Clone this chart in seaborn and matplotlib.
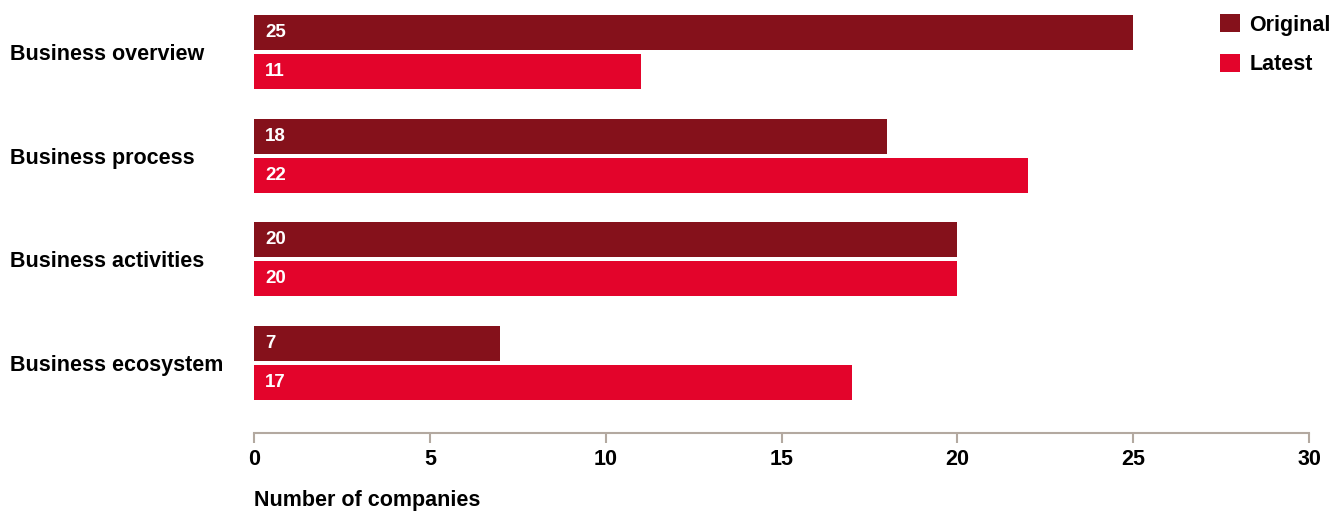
import matplotlib
matplotlib.use("Agg")
import matplotlib.pyplot as plt
import seaborn as sns
import pandas as pd

categories = ["Business overview", "Business process", "Business activities", "Business ecosystem"]
original = [25, 18, 20, 7]
latest = [11, 22, 20, 17]
series_names = ["Original", "Latest"]
x_ticks = [0, 5, 10, 15, 20, 25, 30]
x_label = "Number of companies"

colors = {"Original": "#85111B", "Latest": "#E3042B"}

rows = []
for c, o, l in zip(categories, original, latest):
    rows.append({"category": c, "series": "Original", "value": o})
    rows.append({"category": c, "series": "Latest", "value": l})
df = pd.DataFrame(rows)

sns.set_theme(style="white")
plt.rcParams["font.family"] = ["Liberation Sans", "DejaVu Sans"]
plt.rcParams["font.weight"] = "bold"

W, H = 1344, 511
fig = plt.figure(figsize=(W / 100, H / 100), dpi=100)
ax = fig.add_axes([254 / W, (H - 433) / H, (1309 - 254) / W, 432.6 / H])

sns.barplot(data=df, x="value", y="category", hue="series", orient="h",
            palette=colors, width=0.755, gap=0.1, saturation=1, linewidth=0,
            order=categories, hue_order=series_names, ax=ax, legend=True)

ax.set_xlim(0, 30)
ax.set_ylim(3.68, -0.5)
ax.set_xticks(x_ticks)
ax.set_xticklabels([str(t) for t in x_ticks], fontsize=15.5, fontweight="bold", color="black")
ax.tick_params(axis="x", bottom=True, direction="out", length=7.5, width=1.5, color="#B3A9A0", pad=4)
ax.tick_params(axis="y", left=False, length=0, pad=175.7)
for lbl in ax.get_yticklabels():
    lbl.set_ha("left")
    lbl.set_fontsize(15.5)
    lbl.set_fontweight("bold")
    lbl.set_color("black")

for s in ["top", "right", "left"]:
    ax.spines[s].set_visible(False)
ax.spines["bottom"].set_color("#B3A9A0")
ax.spines["bottom"].set_linewidth(1.5)

ax.set_ylabel("")
ax.set_xlabel(x_label, fontsize=15.5, fontweight="bold", color="black", loc="left", labelpad=14.5)

for cont in ax.containers:
    for patch, val in zip(cont.patches, cont.datavalues):
        cy = patch.get_y() + patch.get_height() / 2
        ax.annotate(f"{int(val)}", xy=(0, cy), xytext=(8, 0), textcoords="offset points",
                    ha="left", va="center", color="white", fontsize=13.5, fontweight="bold")

leg = ax.legend(loc="upper left", bbox_to_anchor=(1201 / W, 1 + 5 / H),
                bbox_transform=fig.transFigure, frameon=False,
                handlelength=0.9, handleheight=0.9, handletextpad=0.45,
                labelspacing=0.85, prop={"size": 15.5, "weight": "bold"})
for t in leg.get_texts():
    t.set_color("black")

fig.savefig("out.png", dpi=100)
